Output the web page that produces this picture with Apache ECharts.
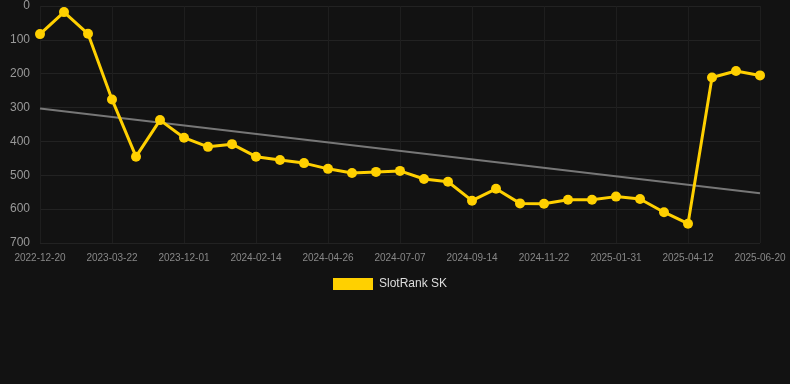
<!DOCTYPE html>
<html>
<head>
<meta charset="utf-8">
<script src="https://cdn.jsdelivr.net/npm/echarts@6/dist/echarts.min.js"></script>
<style>html,body{margin:0;padding:0;background:#121212;}#c{width:790px;height:384px;}</style>
</head>
<body>
<div id="c"></div>
<script>
var categories = ["2022-12-20","2023-01-19","2023-02-20","2023-03-22","2023-07-10","2023-10-05","2023-12-01","2023-12-26","2024-01-20","2024-02-14","2024-03-08","2024-04-02","2024-04-26","2024-05-20","2024-06-13","2024-07-07","2024-07-30","2024-08-22","2024-09-14","2024-10-07","2024-10-30","2024-11-22","2024-12-15","2025-01-08","2025-01-31","2025-02-23","2025-03-19","2025-04-12","2025-05-05","2025-05-28","2025-06-20"];
var rankValues = [83,18,82,276,445,337,389,416,408,445,455,464,481,493,490,487,511,519,575,540,583,584,572,572,563,570,609,643,211,192,205];
var trendStart = 303;
var trendEnd = 553;
var seriesName = "SlotRank SK";

var chart = echarts.init(document.getElementById('c'));
chart.setOption({
  backgroundColor: '#121212',
  animation: false,
  grid: {left: 40, right: 30, top: 6, bottom: 141},
  legend: {
    top: 273, left: 328,
    itemWidth: 40, itemHeight: 12, itemGap: 10,
    icon: 'rect',
    data: [seriesName],
    textStyle: {color: '#dddddd', fontSize: 12, padding: [0, 0, 0, 1]}
  },
  xAxis: {
    type: 'category', boundaryGap: false, data: categories,
    axisLine: {show: false},
    axisTick: {show: false},
    axisLabel: {color: '#888888', fontSize: 10, interval: 2, margin: 10},
    splitLine: {show: true, interval: 2, lineStyle: {color: '#1e1e1e'}}
  },
  yAxis: {
    type: 'value', inverse: true, min: 0, max: 700, interval: 100,
    axisLine: {show: false}, axisTick: {show: false},
    axisLabel: {color: '#999999', fontSize: 12, margin: 10},
    splitLine: {lineStyle: {color: '#222222'}}
  },
  series: [
    {
      name: 'trend', type: 'line', silent: true,
      data: [[categories[0], trendStart], [categories[categories.length-1], trendEnd]],
      symbol: 'none',
      lineStyle: {color: '#777777', width: 2},
      z: 1
    },
    {
      name: seriesName, type: 'line', data: rankValues,
      symbol: 'circle', symbolSize: 10,
      itemStyle: {color: '#FFD000'},
      lineStyle: {color: '#FFD000', width: 3},
      z: 2
    }
  ]
});
</script>
</body>
</html>
